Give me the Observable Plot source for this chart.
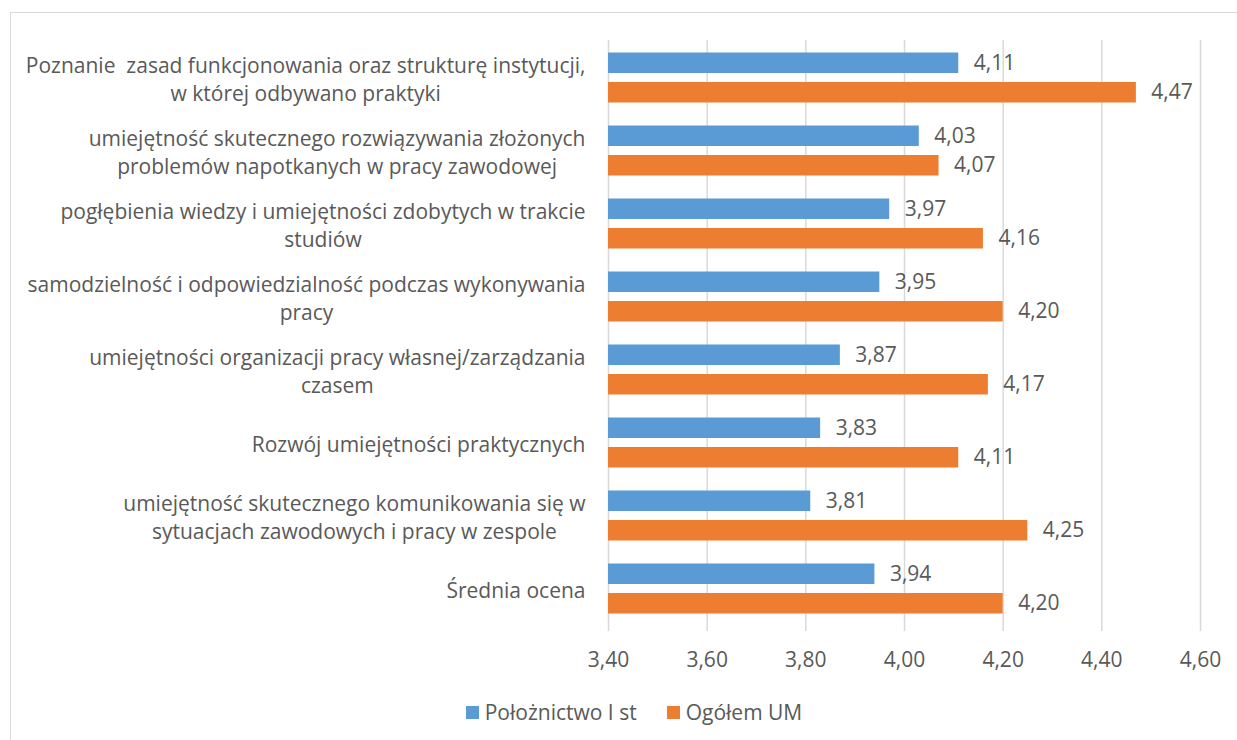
<!DOCTYPE html>
<html>
<head>
<meta charset="utf-8">
<script src="https://cdn.jsdelivr.net/npm/d3@7"></script>
<script src="https://cdn.jsdelivr.net/npm/@observablehq/plot@0.6"></script>
<style>
  html, body { margin: 0; padding: 0; background: #fff; }
  body { width: 1237px; height: 740px; position: relative; overflow: hidden; font-family: "Open Sans", sans-serif; }
  #frame { position: absolute; left: 10px; top: 12px; width: 1300px; height: 800px; border-left: 1.5px solid #d9d9d9; border-top: 1.5px solid #d9d9d9; }
  #chart { position: absolute; left: 0; top: 0; }
  #legend { position: absolute; left: 0px; top: 698px; width: 1268px; display: flex; justify-content: center; align-items: center; font-size: 21px; color: #595959; }
  .item { display: flex; align-items: center; }
  .sw { width: 13px; height: 13px; margin-right: 6px; }
</style>
</head>
<body>
<div id="frame"></div>
<div id="chart"></div>
<div id="legend"></div>
<script>
const categories = [
  "Poznanie  zasad funkcjonowania oraz strukturę instytucji,\nw której odbywano praktyki",
  "umiejętność skutecznego rozwiązywania złożonych\nproblemów napotkanych w pracy zawodowej",
  "pogłębienia wiedzy i umiejętności zdobytych w trakcie\nstudiów",
  "samodzielność i odpowiedzialność podczas wykonywania\npracy",
  "umiejętności organizacji pracy własnej/zarządzania\nczasem",
  "Rozwój umiejętności praktycznych",
  "umiejętność skutecznego komunikowania się w\nsytuacjach zawodowych i pracy w zespole",
  "Średnia ocena"
];
const seriesNames = ["Położnictwo I st", "Ogółem UM"];
const seriesColors = ["#5B9BD5", "#ED7D31"];
const polozValues = [4.11, 4.03, 3.97, 3.95, 3.87, 3.83, 3.81, 3.94];
const ogolemValues = [4.47, 4.07, 4.16, 4.20, 4.17, 4.11, 4.25, 4.20];
const xTicks = [3.40, 3.60, 3.80, 4.00, 4.20, 4.40, 4.60];

const xMin = xTicks[0];
const fmt = v => v.toFixed(2).replace(".", ",");
const poloz = categories.map((c, i) => ({cat: c, value: polozValues[i]}));
const ogolem = categories.map((c, i) => ({cat: c, value: ogolemValues[i]}));

const textColor = "#595959";
const fontSize = 21;

const chart = Plot.plot({
  width: 1237,
  height: 690,
  marginTop: 40,
  marginBottom: 65,
  marginLeft: 608,
  marginRight: 37,
  style: {fontFamily: "'Open Sans', sans-serif", fontSize: fontSize + "px", color: textColor, background: "transparent"},
  x: {domain: [xTicks[0], xTicks[xTicks.length - 1]], ticks: xTicks},
  y: {domain: categories, padding: 0},
  marks: [
    Plot.gridX(xTicks, {stroke: "#d9d9d9", strokeOpacity: 1, strokeWidth: 1.5}),
    Plot.axisX(xTicks, {tickSize: 6, stroke: "#d9d9d9", strokeWidth: 1.5, tickPadding: 21, tickFormat: fmt, fill: textColor, fontSize: fontSize, label: null}),
    Plot.axisY({tickSize: 0, tickPadding: 23, fill: textColor, fontSize: fontSize, lineHeight: 1.33, label: null}),
    Plot.barX(poloz, {x1: () => xMin, x2: "value", y: "cat", fill: seriesColors[0], insetTop: 26.25, insetBottom: 26.25, dy: -14.75}),
    Plot.barX(ogolem, {x1: () => xMin, x2: "value", y: "cat", fill: seriesColors[1], insetTop: 26.25, insetBottom: 26.25, dy: 14.75}),
    Plot.text(poloz, {x: "value", y: "cat", text: d => fmt(d.value), textAnchor: "start", dx: 15, dy: -14.75, fill: textColor, fontSize: fontSize}),
    Plot.text(ogolem, {x: "value", y: "cat", text: d => fmt(d.value), textAnchor: "start", dx: 15, dy: 14.75, fill: textColor, fontSize: fontSize})
  ]
});
document.getElementById("chart").appendChild(chart);

// center wrapped lines within each y-axis label block (as in the original)
chart.querySelectorAll('g[aria-label="y-axis tick label"] text').forEach(t => {
  const spans = t.querySelectorAll("tspan");
  if (spans.length < 2) return;
  const widths = Array.from(spans, s => s.getComputedTextLength());
  const maxW = Math.max(...widths);
  spans.forEach((s, i) => s.setAttribute("x", -(maxW - widths[i]) / 2));
});

const legend = document.getElementById("legend");
seriesNames.forEach((name, i) => {
  const item = document.createElement("div");
  item.className = "item";
  if (i > 0) item.style.marginLeft = "30px";
  const sw = document.createElement("div");
  sw.className = "sw";
  sw.style.background = seriesColors[i];
  const lab = document.createElement("span");
  lab.textContent = name;
  item.appendChild(sw);
  item.appendChild(lab);
  legend.appendChild(item);
});
</script>
</body>
</html>
